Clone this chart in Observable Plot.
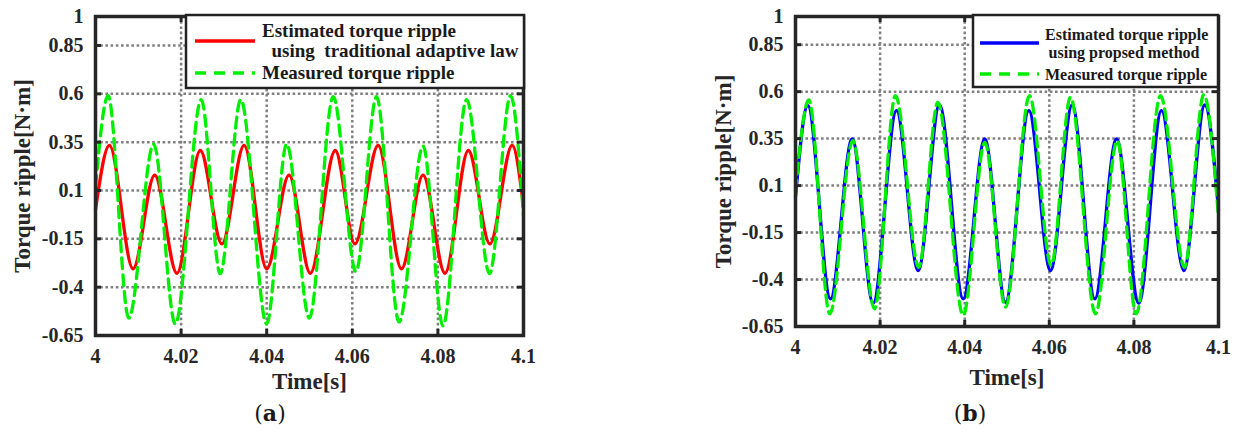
<!DOCTYPE html>
<html>
<head>
<meta charset="utf-8">
<script src="https://cdn.jsdelivr.net/npm/d3@7"></script>
<script src="https://cdn.jsdelivr.net/npm/@observablehq/plot@0.6"></script>
<style>
  html, body { margin: 0; padding: 0; background: #fff; }
  #page { position: relative; width: 1235px; height: 432px; overflow: hidden; background: #fff; }
  #page > svg { position: absolute; top: 0; }
  .lg text { font-family: "Liberation Serif", "Times New Roman", serif; font-weight: bold; fill: #1a1a1a; white-space: pre; }
</style>
</head>
<body>
<div id="page"></div>
<script>
// ---------- data ----------
// Panel (a): estimated torque ripple, traditional adaptive law (red)
const timeA = [4, 4.00326, 4.00878, 4.01383, 4.01903, 4.02448, 4.02953, 4.03473, 4.04, 4.04522, 4.05019, 4.05602, 4.06061, 4.06604, 4.07149, 4.07653, 4.08166, 4.08711, 4.09214, 4.09736, 4.1];
const estA  = [0.0, 0.333, -0.305, 0.18, -0.328, 0.307, -0.176, 0.333, -0.305, 0.18, -0.328, 0.307, -0.176, 0.333, -0.305, 0.18, -0.328, 0.307, -0.176, 0.333, 0.02];
// Panel (a): measured torque ripple (green dashed)
const timeMA = [4, 4.00295, 4.00777, 4.01359, 4.01865, 4.02471, 4.02914, 4.03396, 4.04, 4.04468, 4.04996, 4.05555, 4.06084, 4.06566, 4.07093, 4.07653, 4.08119, 4.08671, 4.09207, 4.09697, 4.1];
const measA  = [0.12, 0.59, -0.56, 0.34, -0.59, 0.57, -0.33, 0.57, -0.59, 0.34, -0.56, 0.585, -0.32, 0.585, -0.58, 0.33, -0.6, 0.57, -0.33, 0.59, -0.03];
// Panel (b): estimated torque ripple, proposed method (blue)
const timeB = [4, 4.00292, 4.00827, 4.0134, 4.01836, 4.02388, 4.029, 4.03404, 4.03964, 4.04475, 4.04965, 4.05516, 4.06028, 4.06541, 4.07076, 4.07589, 4.08116, 4.08652, 4.0918, 4.09676, 4.1];
const estB  = [0.04, 0.526, -0.503, 0.348, -0.526, 0.499, -0.352, 0.529, -0.503, 0.348, -0.521, 0.499, -0.352, 0.529, -0.503, 0.348, -0.526, 0.499, -0.352, 0.529, -0.03];
// Panel (b): measured torque ripple (green dashed)
const timeMB = [4, 4.00315, 4.00811, 4.01355, 4.01868, 4.02364, 4.02915, 4.03364, 4.03964, 4.04475, 4.04965, 4.05532, 4.06045, 4.06501, 4.07092, 4.07605, 4.08054, 4.08629, 4.09196, 4.09652, 4.1];
const measB  = [0.07, 0.556, -0.583, 0.339, -0.556, 0.579, -0.335, 0.543, -0.59, 0.33, -0.547, 0.579, -0.325, 0.57, -0.583, 0.339, -0.583, 0.579, -0.335, 0.584, -0.07];

// axes
const xTicks = [4, 4.02, 4.04, 4.06, 4.08, 4.1];
const xTickLabels = ["4", "4.02", "4.04", "4.06", "4.08", "4.1"];
const yTicks = [1, 0.85, 0.6, 0.35, 0.1, -0.15, -0.4, -0.65];
const yTickLabels = ["1", "0.85", "0.6", "0.35", "0.1", "-0.15", "-0.4", "-0.65"];
const xGrid = [4.02, 4.04, 4.06, 4.08];
const yGrid = [0.85, 0.6, 0.35, 0.1, -0.15, -0.4];
const xLabel = "Time[s]";
const yLabel = "Torque ripple[N·m]";
const legendA = ["Estimated torque ripple", "  using  traditional adaptive law", "Measured torque ripple"];
const legendB = ["Estimated torque ripple", "using propsed method", "Measured torque ripple"];

const zip = (t, v) => t.map((d, i) => ({t: d, v: v[i]}));
const fmtX = d => xTickLabels[xTicks.indexOf(d)];
const fmtY = d => yTickLabels[yTicks.indexOf(d)];

function panel({width, height, ml, mr, mt, mb, est, meas, estColor, ydx, xdy}) {
  const iw = width - ml - mr, ih = height - mt - mb;
  return Plot.plot({
    width, height, marginLeft: ml, marginRight: mr, marginTop: mt, marginBottom: mb,
    x: {domain: [4, 4.1], axis: null},
    y: {domain: [-0.65, 1], axis: null},
    style: {fontFamily: "'Liberation Serif', 'Times New Roman', serif", fontSize: "20px", fontWeight: "bold", color: "#262626", background: "transparent"},
    marks: [
      Plot.ruleX(xGrid, {stroke: "#808080", strokeWidth: 2.5, strokeDasharray: "2.6,2.6"}),
      Plot.ruleY(yGrid, {stroke: "#808080", strokeWidth: 2.5, strokeDasharray: "2.6,2.6"}),
      Plot.line(est, {x: "t", y: "v", curve: "monotone-x", stroke: estColor, strokeWidth: 3.3}),
      Plot.line(meas, {x: "t", y: "v", curve: "monotone-x", stroke: "#00ee00", strokeWidth: 3.3, strokeDasharray: "11,6"}),
      Plot.tickX(xTicks, {x: d => d, insetTop: ih - 6, stroke: "#262626", strokeWidth: 3}),
      Plot.tickX(xTicks, {x: d => d, insetBottom: ih - 6, stroke: "#262626", strokeWidth: 3}),
      Plot.tickY(yTicks, {y: d => d, insetRight: iw - 6, stroke: "#262626", strokeWidth: 3}),
      Plot.tickY(yTicks, {y: d => d, insetLeft: iw - 6, stroke: "#262626", strokeWidth: 3}),
      Plot.frame({stroke: "#262626", strokeWidth: 3.5}),
      Plot.text(xTicks, {x: d => d, text: fmtX, frameAnchor: "bottom", dy: 27, lineAnchor: "bottom", textAnchor: "middle", fontSize: 20, fontWeight: "bold", fill: "#262626"}),
      Plot.text(yTicks, {y: d => d, text: fmtY, frameAnchor: "left", dx: -12, textAnchor: "end", fontSize: 20, fontWeight: "bold", fill: "#262626"}),
      Plot.text([yLabel], {text: d => d, frameAnchor: "left", dx: ydx, rotate: -90, textAnchor: "middle", lineAnchor: "middle", fontSize: 23, fontWeight: "bold", fill: "#262626"}),
      Plot.text([xLabel], {text: d => d, frameAnchor: "bottom", dy: xdy, lineAnchor: "bottom", textAnchor: "middle", fontSize: 23, fontWeight: "bold", fill: "#262626"})
    ]
  });
}

const page = document.getElementById("page");

const a = panel({width: 600, height: 432, ml: 95, mr: 77, mt: 16, mb: 97,
  est: zip(timeA, estA), meas: zip(timeMA, measA), estColor: "#ff0000", ydx: -73, xdy: 53});
a.style.left = "0px";
page.appendChild(a);

const b = panel({width: 618, height: 432, ml: 178, mr: 17, mt: 16, mb: 106,
  est: zip(timeB, estB), meas: zip(timeMB, measB), estColor: "#0000ff", ydx: -72, xdy: 58});
b.style.left = "617px";
page.appendChild(b);

// ---------- legends and captions (overlay) ----------
const ov = d3.create("svg").attr("class", "lg").attr("width", 1235).attr("height", 432)
  .style("position", "absolute").style("left", "0px").style("top", "0px");

function legend(box, entries, color, fs, lines, texts) {
  ov.append("rect").attr("x", box[0]).attr("y", box[1]).attr("width", box[2]).attr("height", box[3])
    .attr("fill", "#fff").attr("stroke", "#222").attr("stroke-width", 2.5);
  ov.append("line").attr("x1", lines[0]).attr("x2", lines[1]).attr("y1", lines[2]).attr("y2", lines[2])
    .attr("stroke", color).attr("stroke-width", 3.3);
  ov.append("line").attr("x1", lines[0]).attr("x2", lines[1]).attr("y1", lines[3]).attr("y2", lines[3])
    .attr("stroke", "#00ee00").attr("stroke-width", 3.3).attr("stroke-dasharray", "11,8");
  entries.forEach((s, i) => {
    ov.append("text").attr("x", texts[i][0]).attr("y", texts[i][1]).attr("text-anchor", texts[i][2] || "start")
      .attr("font-size", fs).text(s);
  });
}
legend([186, 15, 338, 73], legendA, "#ff0000", 19, [195, 255, 41, 73],
  [[262, 37], [262, 57], [262, 79]]);
legend([973, 15, 245, 72], legendB, "#0000ff", 16, [980, 1039, 43, 74],
  [[1045, 40], [1124, 58, "middle"], [1045, 80]]);

function caption(x, letter) {
  const t = ov.append("text").attr("x", x).attr("y", 421).attr("text-anchor", "middle")
    .attr("font-size", 22).style("font-family", "'DejaVu Serif', serif").style("font-weight", "normal");
  t.append("tspan").text("(");
  t.append("tspan").style("font-weight", "bold").text(letter);
  t.append("tspan").text(")");
}
caption(270, "a");
caption(970, "b");

page.appendChild(ov.node());
</script>
</body>
</html>
